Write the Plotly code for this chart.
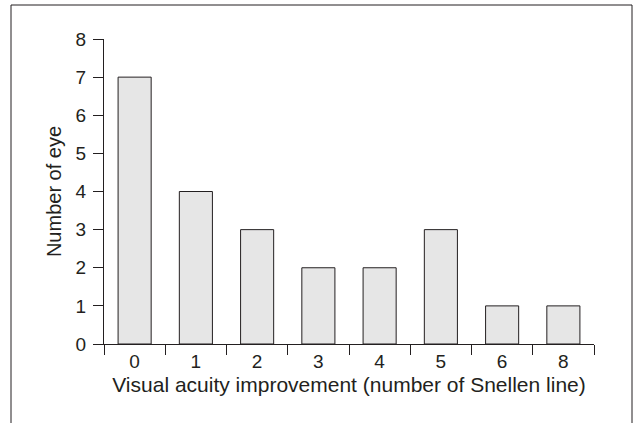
import plotly.graph_objects as go

categories = ["0", "1", "2", "3", "4", "5", "6", "8"]
counts = [7, 4, 3, 2, 2, 3, 1, 1]
y_ticks = [0, 1, 2, 3, 4, 5, 6, 7, 8]

ink = "#231f20"
fig = go.Figure(go.Bar(
    x=categories, y=counts, width=0.54,
    marker=dict(color="#e6e6e6", line=dict(color=ink, width=1)),
))

W, H = 634, 423
L, T = 104, 39
R = W - 594
B = H - 344
pw, ph = W - L - R, H - T - B

fig.update_layout(
    width=W, height=H,
    margin=dict(l=L, r=R, t=T, b=B, pad=0),
    paper_bgcolor="white", plot_bgcolor="white",
    font=dict(family="Liberation Sans, Arial, sans-serif", size=19, color=ink),
    showlegend=False,
    xaxis=dict(
        type="category", tickson="boundaries", ticks="outside", ticklen=10,
        tickcolor=ink, tickwidth=1, showline=True, linecolor=ink, linewidth=1,
        showgrid=False, zeroline=False, tickfont=dict(size=19),
        title=dict(text="Visual acuity improvement (number of Snellen line)", standoff=6,
                   font=dict(size=21)),
    ),
    yaxis=dict(
        range=[0, 8], tickvals=y_ticks, ticks="outside", ticklen=10,
        tickcolor=ink, tickwidth=1, showline=True, linecolor=ink, linewidth=1,
        showgrid=False, zeroline=False, tickfont=dict(size=19), ticklabelstandoff=3,
        title=dict(text="Number of eye", standoff=8, font=dict(size=20)),
    ),
    shapes=[dict(
        type="rect", xref="paper", yref="paper",
        x0=(11 - L) / pw, x1=(632 - L) / pw,
        y0=-1, y1=(344 - 5) / ph,
        line=dict(color=ink, width=1), fillcolor="rgba(0,0,0,0)", layer="below",
    )],
)

fig.write_html("out.html", config={"displayModeBar": False},
               post_script="document.body.style.margin='0';")
